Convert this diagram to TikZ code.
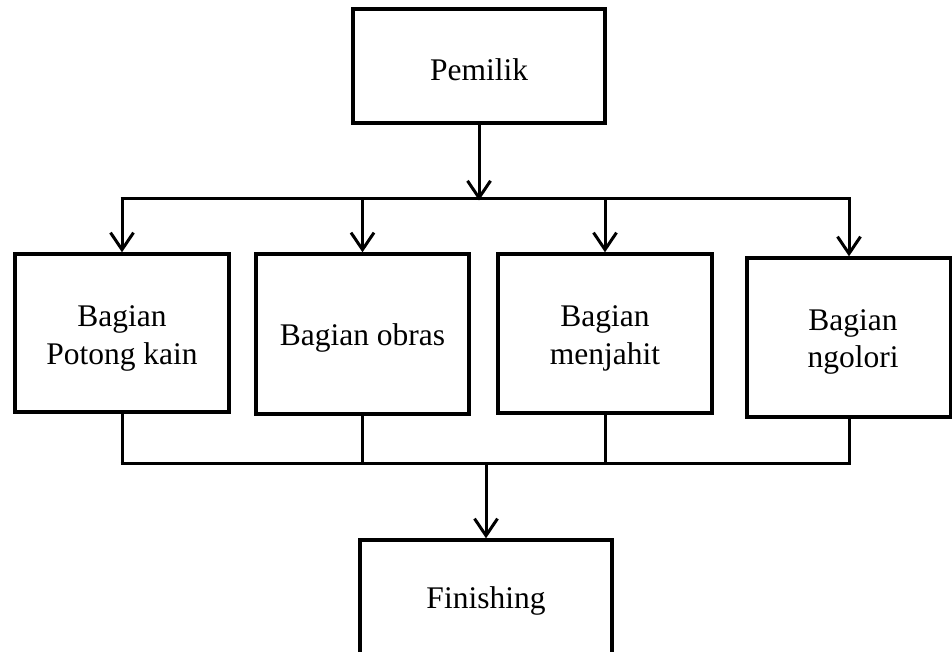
\documentclass[tikz,border=0pt]{standalone}
\usepackage{fontspec}
\setmainfont{Liberation Serif}
\usetikzlibrary{arrows.meta}
\begin{document}
\begin{tikzpicture}[x=1pt,y=-1pt,
  box/.style={draw,line width=3.4pt,inner sep=0pt},
  txt/.style={align=center,inner sep=0pt,font=\fontsize{31.5}{37.5}\selectfont},
  conn/.style={line width=3pt},
  arr/.style={conn,-{Straight Barb[length=17pt,width=23pt,line width=3pt]}}]
\useasboundingbox (0,0) rectangle (952,652);
\clip (0,0) rectangle (952,652);
\node[box,minimum width=252pt,minimum height=114pt] (pem) at (479,66) {};
\node[box,minimum width=214pt,minimum height=158pt] (b1) at (122,333) {};
\node[box,minimum width=213pt,minimum height=160pt] (b2) at (362.5,334) {};
\node[box,minimum width=214pt,minimum height=159pt] (b3) at (605,333.5) {};
\node[box,minimum width=204pt,minimum height=159pt] (b4) at (849,337.5) {};
\node[box,minimum width=252pt,minimum height=116pt] (fin) at (486,598) {};
\node[txt,yshift=-3.5pt] (tpem) at (pem.center) {Pemilik};
\node[txt,yshift=-5.5pt] (tb1) at (b1.center) {Bagian\\Potong kain};
\node[txt,yshift=-3.75pt] (tb2) at (b2.center) {Bagian obras};
\node[txt,yshift=-5pt] (tb3) at (b3.center) {Bagian\\menjahit};
\node[txt,xshift=4pt,yshift=-4.5pt] (tb4) at (b4.center) {Bagian\\ngolori};
\node[txt,yshift=-2.75pt] (tfin) at (fin.center) {Finishing};
\coordinate (busT) at (479,199);
\coordinate (busB) at (486,463);
\draw[arr] (pem.south) -- ([yshift=-1.5pt]busT);
\draw[conn] ([xshift=-1.5pt]b1.north |- busT) -- ([xshift=1.5pt]b4.north |- busT);
\foreach \b in {b1,b2,b3,b4}
  \draw[arr] (\b.north |- busT) -- (\b.north);
\foreach \b in {b1,b2,b3,b4}
  \draw[conn] (\b.south) -- (\b.south |- busB);
\draw[conn] ([xshift=-1.5pt]b1.south |- busB) -- ([xshift=1.5pt]b4.south |- busB);
\draw[arr] (busB) -- (fin.north);
\end{tikzpicture}
\end{document}
